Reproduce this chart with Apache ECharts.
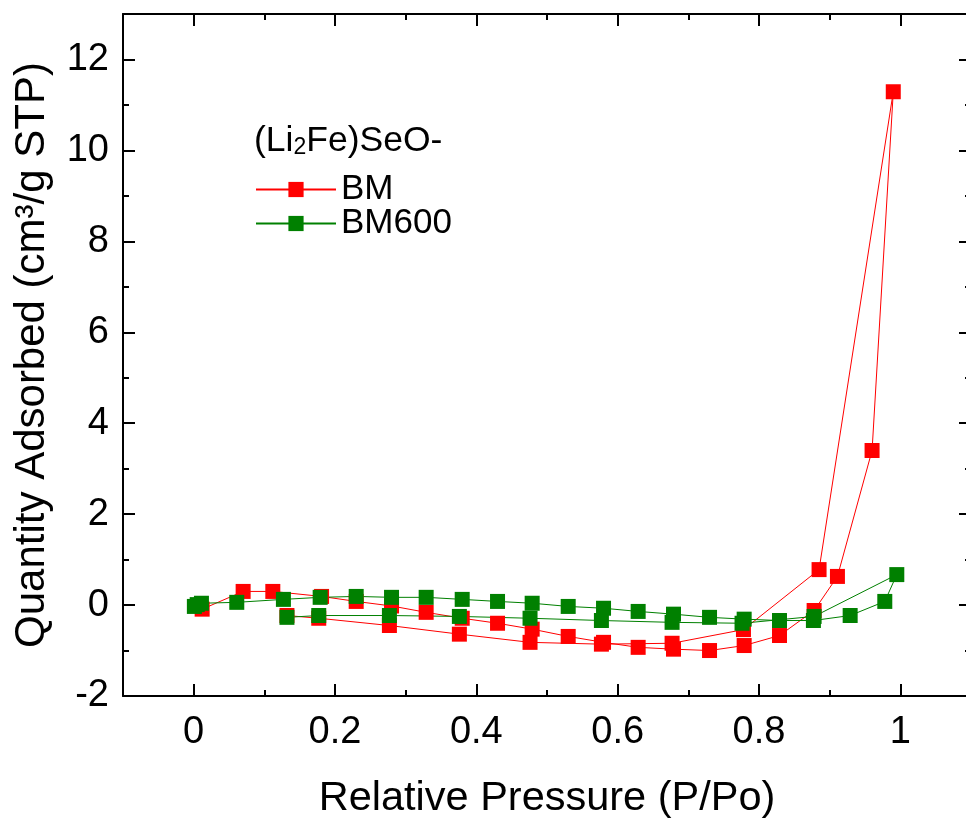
<!DOCTYPE html>
<html>
<head>
<meta charset="utf-8">
<script src="https://cdn.jsdelivr.net/npm/echarts@6/dist/echarts.min.js"></script>
<style>html,body{margin:0;padding:0;background:#fff;}#c{width:966px;height:824px;}</style>
</head>
<body>
<div id="c"></div>
<script>
// ---- data ----
const xMajorTicks = [0, 0.2, 0.4, 0.6, 0.8, 1];
const xMinorTicks = [0.1, 0.3, 0.5, 0.7, 0.9];
const yMajorTicks = [-2, 0, 2, 4, 6, 8, 10, 12];
const yMinorTicks = [-1, 1, 3, 5, 7, 9, 11, 13];

const seriesNames = ['BM', 'BM600'];
const legendTitle = '(Li{sub|2}Fe)SeO-';

// BM: adsorption then desorption branch, in measurement order
const bmPressure = [0.012, 0.070, 0.112, 0.181, 0.230, 0.280, 0.329, 0.380, 0.430, 0.479, 0.530, 0.580, 0.629, 0.679, 0.730, 0.779, 0.829, 0.878, 0.911, 0.960, 0.990,
                    0.885, 0.778, 0.677, 0.577, 0.476, 0.376, 0.277, 0.177, 0.132];
const bmQuantity = [-0.09, 0.30, 0.30, 0.19, 0.08, -0.02, -0.16, -0.29, -0.40, -0.53, -0.69, -0.82, -0.93, -0.97, -1.00, -0.89, -0.67, -0.12, 0.63, 3.40, 11.29,
                    0.78, -0.54, -0.84, -0.86, -0.82, -0.64, -0.45, -0.29, -0.23];

// BM600
const bm600Pressure = [0.001, 0.005, 0.011, 0.061, 0.127, 0.179, 0.230, 0.280, 0.329, 0.380, 0.430, 0.479, 0.530, 0.580, 0.629, 0.679, 0.730, 0.779, 0.829, 0.877, 0.929, 0.978, 0.995,
                       0.878, 0.776, 0.677, 0.577, 0.476, 0.376, 0.277, 0.177, 0.132];
const bm600Quantity = [-0.03, 0.01, 0.04, 0.06, 0.125, 0.17, 0.19, 0.17, 0.17, 0.125, 0.08, 0.04, -0.03, -0.07, -0.14, -0.20, -0.27, -0.31, -0.34, -0.34, -0.23, 0.08, 0.67,
                       -0.25, -0.40, -0.38, -0.34, -0.29, -0.25, -0.23, -0.23, -0.27];

const xName = 'Relative Pressure (P/Po)';
const yName = 'Quantity Adsorbed (cm\u00B3/g STP)';

// ---- chart ----
const FONT = "'Liberation Sans', Arial, sans-serif";
const zip = (xs, ys) => xs.map((x, i) => [x, ys[i]]);
const X_MIN = -0.1, X_MAX = 1.1, Y_MIN = -2, Y_MAX = 13;
const black = '#000';

function xAxisDef(pos, ticks, len, showLine, showLabel) {
  return {
    type: 'value', position: pos, min: X_MIN, max: X_MAX,
    axisLine: { show: showLine, onZero: false, lineStyle: { color: black, width: 2 } },
    axisTick: { show: true, inside: true, length: len, customValues: ticks, lineStyle: { color: black, width: 2 } },
    axisLabel: showLabel ? { show: true, customValues: ticks, fontSize: 38, fontFamily: FONT, color: black, margin: 18 } : { show: false },
    splitLine: { show: false }
  };
}
function yAxisDef(pos, ticks, len, showLine, showLabel) {
  return {
    type: 'value', position: pos, min: Y_MIN, max: Y_MAX,
    axisLine: { show: showLine, onZero: false, lineStyle: { color: black, width: 2 } },
    axisTick: { show: true, inside: true, length: len, customValues: ticks, lineStyle: { color: black, width: 2 } },
    axisLabel: showLabel ? { show: true, customValues: ticks, fontSize: 38, fontFamily: FONT, color: black, margin: 14 } : { show: false },
    splitLine: { show: false }
  };
}

const xAxes = [
  xAxisDef('bottom', xMajorTicks, 12, true, true),
  xAxisDef('bottom', xMinorTicks, 6, false, false),
  xAxisDef('top', xMajorTicks, 12, true, false),
  xAxisDef('top', xMinorTicks, 6, false, false)
];
Object.assign(xAxes[0], {
  name: xName, nameLocation: 'middle', nameGap: 82,
  nameTextStyle: { fontSize: 41.5, fontFamily: FONT, color: black }
});
const yAxes = [
  yAxisDef('left', yMajorTicks, 12, true, true),
  yAxisDef('left', yMinorTicks, 6, false, false),
  yAxisDef('right', yMajorTicks, 12, true, false),
  yAxisDef('right', yMinorTicks, 6, false, false)
];
Object.assign(yAxes[0], {
  name: yName, nameLocation: 'middle', nameGap: 70,
  nameTextStyle: { fontSize: 42, fontFamily: FONT, color: black }
});

const colors = ['#ff0000', '#008000'];
function lineSeries(name, data, color) {
  return {
    name: name, type: 'line', data: data,
    xAxisIndex: 0, yAxisIndex: 0,
    symbol: 'rect', symbolSize: 15,
    lineStyle: { color: color, width: 1 },
    itemStyle: { color: color },
    animation: false
  };
}

const chart = echarts.init(document.getElementById('c'), null, { renderer: 'canvas' });
chart.setOption({
  backgroundColor: '#fff',
  animation: false,
  grid: { left: 123, width: 848, top: 14, bottom: 128, containLabel: false, outerBoundsMode: 'none' },
  title: {
    text: legendTitle, left: 249, top: 118,
    textStyle: {
      fontSize: 35.5, fontWeight: 'normal', fontFamily: FONT, color: black,
      rich: { sub: { fontSize: 23, fontFamily: FONT, color: black, verticalAlign: 'bottom', lineHeight: 26, padding: [13, 0, 0, 0] } }
    }
  },
  legend: {
    data: seriesNames, orient: 'vertical', left: 255, top: 172, padding: 0,
    itemWidth: 80, itemHeight: 19, itemGap: -1,
    textStyle: { fontSize: 35, fontFamily: FONT, color: black, lineHeight: 31 }
  },
  xAxis: xAxes,
  yAxis: yAxes,
  series: [
    lineSeries(seriesNames[0], zip(bmPressure, bmQuantity), colors[0]),
    lineSeries(seriesNames[1], zip(bm600Pressure, bm600Quantity), colors[1])
  ]
});
</script>
</body>
</html>
